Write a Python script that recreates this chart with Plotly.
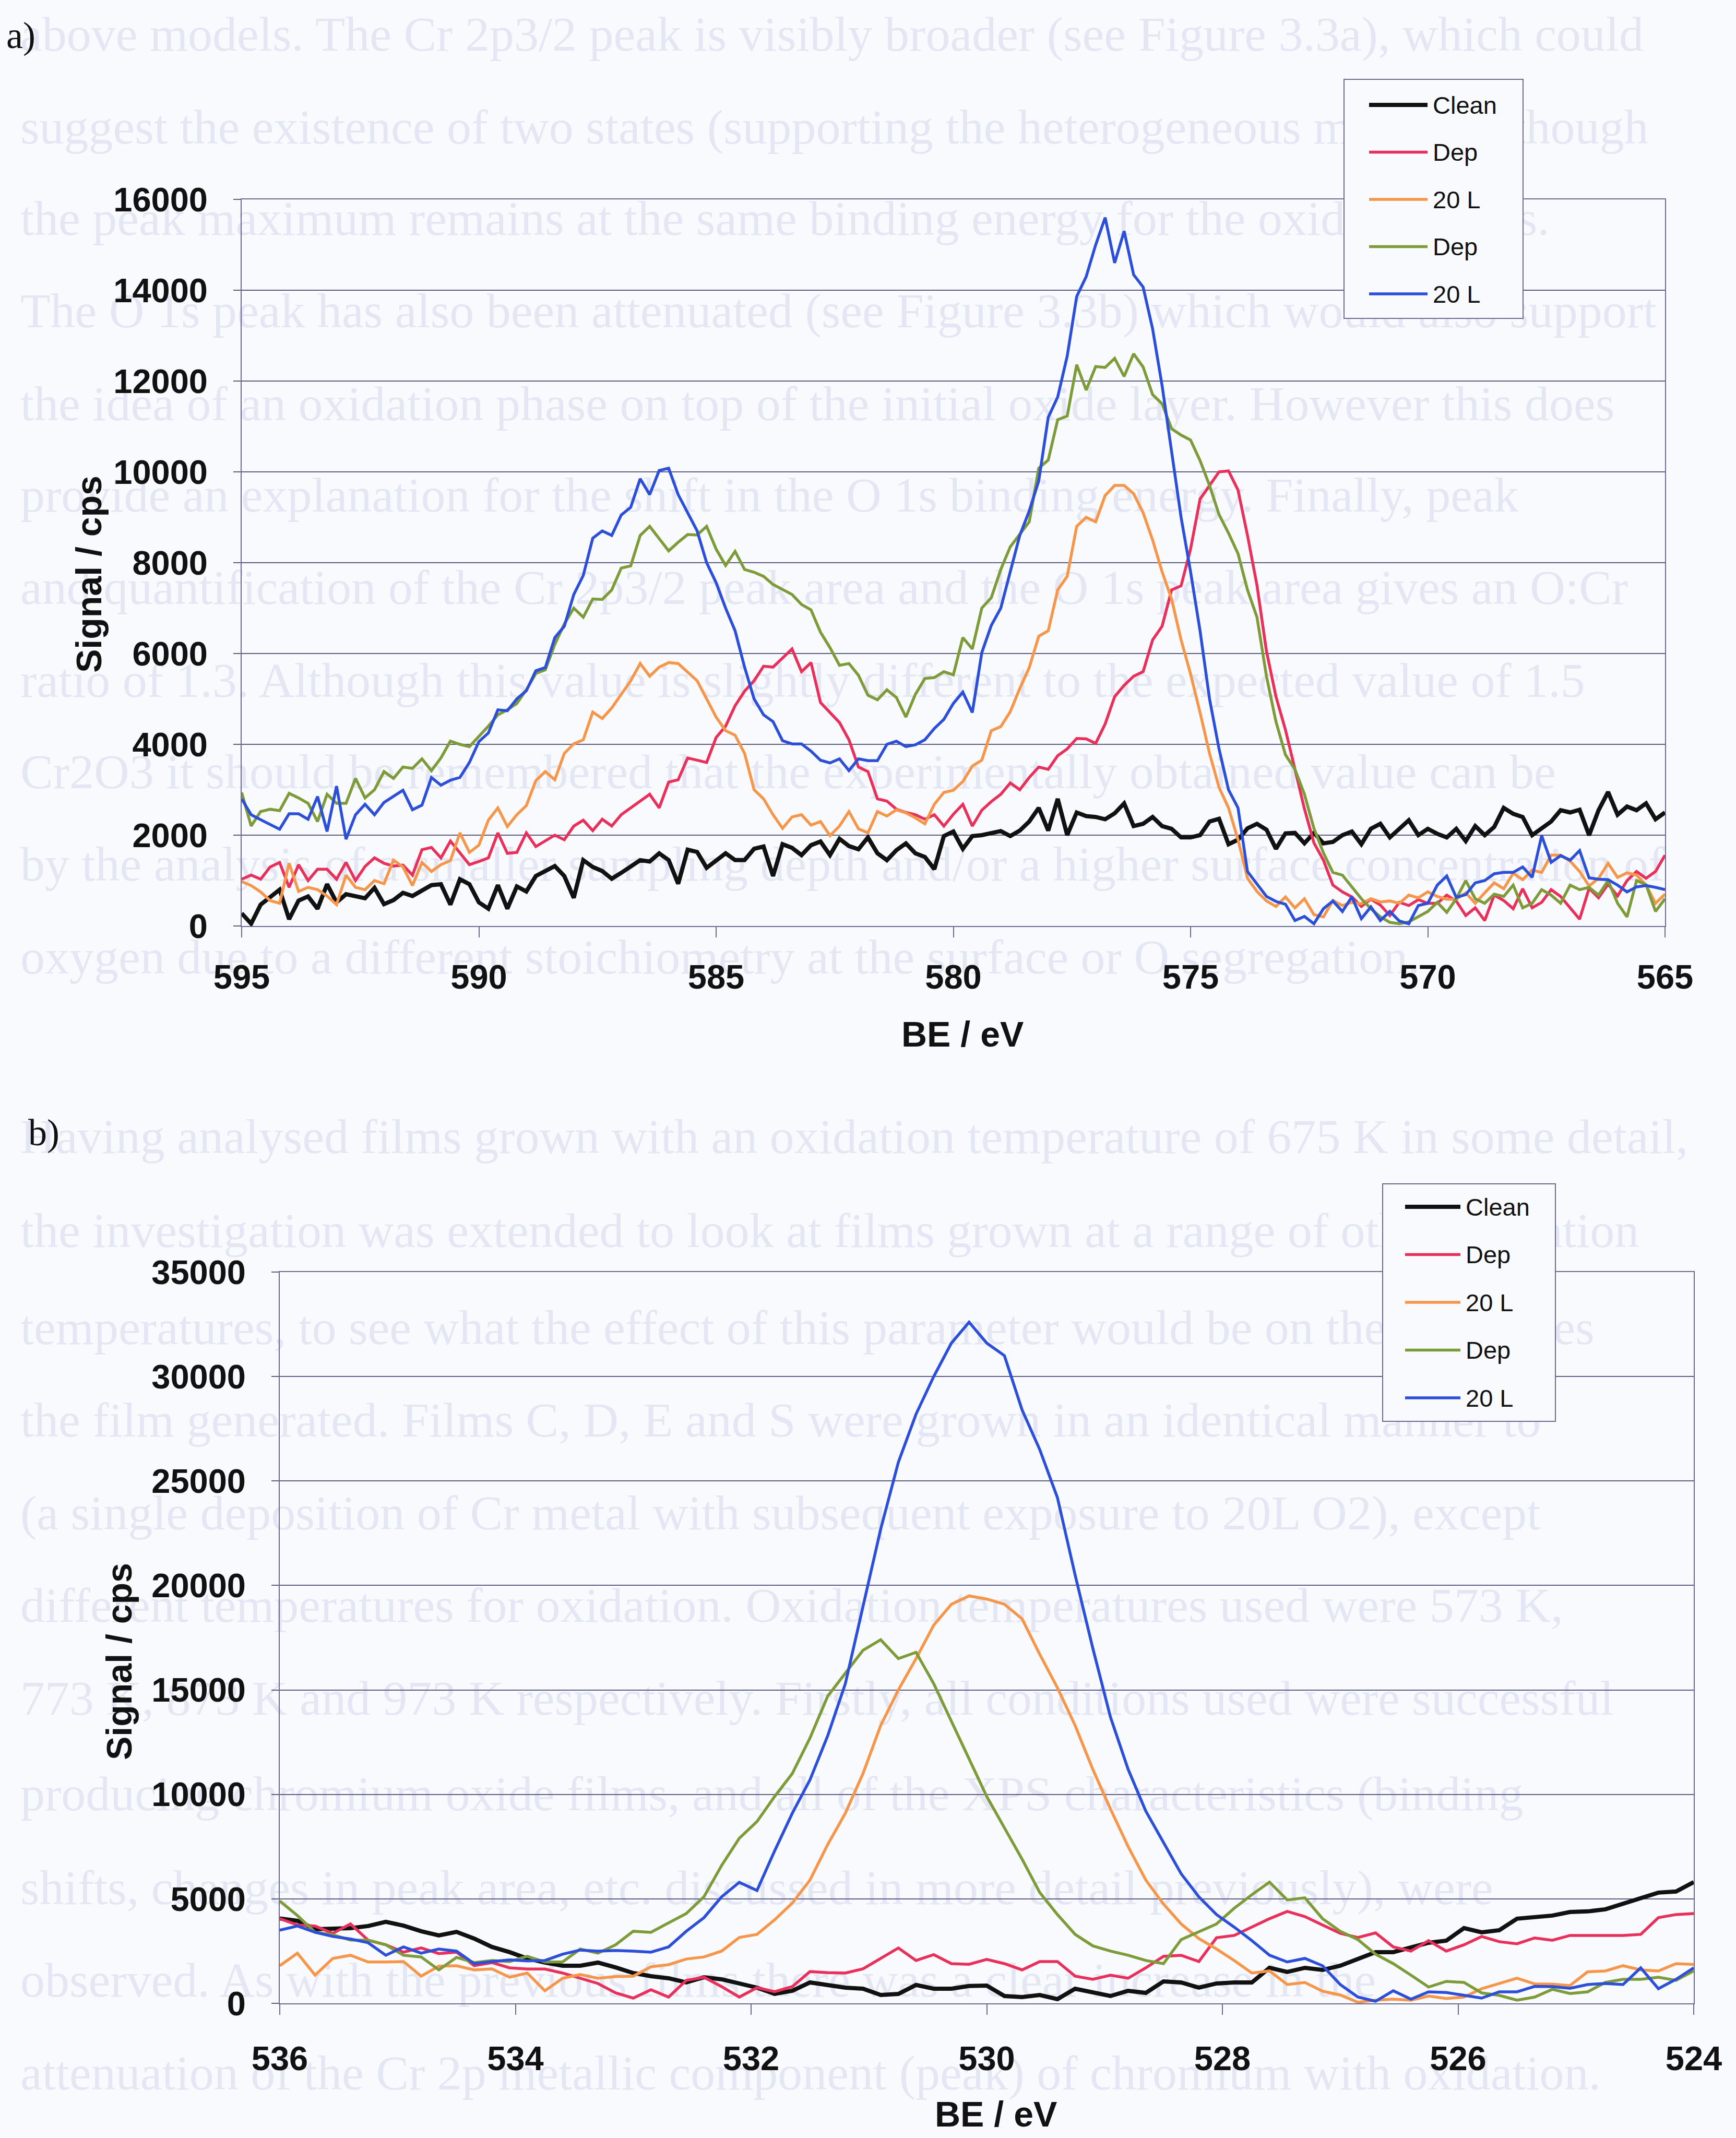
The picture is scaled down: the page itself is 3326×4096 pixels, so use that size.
import plotly.graph_objects as go

W, H = 3326, 4096

# ---------------------------------------------------------------- data
# Cr 2p region, binding energy grid 595 -> 565 eV in 0.2 eV steps
be_a = [round(595 - 0.2 * i, 1) for i in range(151)]

clean_a = [
    280, 50, 470, 650, 800, 150, 560, 650, 380, 920, 520, 700, 660, 610, 840, 480, 570, 730, 660, 790,
    900, 920, 470, 1030, 920, 520, 380, 900, 380, 870, 760, 1100, 1200, 1320, 1100, 620, 1450, 1300, 1210, 1040,
    1170, 1300, 1450, 1420, 1600, 1450, 930, 1680, 1630, 1280, 1450, 1600, 1450,
    1450, 1700, 1750, 1100, 1800, 1720, 1560, 1780, 1860, 1560, 1920, 1760, 1690, 1950, 1600, 1450, 1670, 1820,
    1600, 1520, 1250, 1980, 2080, 1700, 1980, 2000, 2050, 2090, 1980, 2100, 2300, 2600, 2100, 2800, 2000, 2500,
    2420, 2400, 2350, 2480, 2700, 2200, 2250, 2400, 2200, 2140, 1950, 1950, 2000,
    2300, 2360, 1800, 1900, 2150, 2250, 2120, 1700, 2040, 2050, 1820, 2050, 1820, 1850, 2000, 2080, 1800, 2140,
    2250, 1950, 2150, 2330, 2000, 2140, 2030, 1950, 2140, 1870, 2200, 2000, 2180, 2600, 2470, 2400, 2000, 2150,
    2300, 2550, 2500, 2560, 2000, 2550, 2950, 2450, 2630, 2550, 2700, 2350, 2500,
]
dep_a = [
    1030, 1120, 1030, 1300, 1400, 850, 1350, 1000, 1250, 1250, 1030, 1400, 1000, 1310, 1500, 1380, 1320, 1340,
    1120, 1680, 1730, 1500, 1870, 1600, 1350, 1420, 1500, 2050, 1600, 1620, 2050, 1750, 1870, 2000, 1900, 2200,
    2330, 2100, 2350, 2200, 2450, 2600, 2750, 2900, 2600, 3170, 3220, 3700, 3650, 3600, 4150, 4400, 4850,
    5170, 5400, 5720, 5700, 5900, 6100, 5600, 5800, 4920, 4700, 4480, 4100, 3500, 3400, 2800, 2750, 2570, 2500,
    2450, 2350, 2450, 2200, 2460, 2680, 2200, 2550, 2740, 2900, 3150, 3000, 3270, 3500, 3450, 3750, 3900, 4130,
    4120, 4020, 4450, 5050, 5300, 5500, 5600, 6300, 6600, 7400, 7490, 8300, 9400,
    9700, 10000, 10020, 9600, 8600, 7500, 6050, 5050, 4320, 3460, 2580, 1830, 1450, 900, 750, 640, 430, 590,
    460, 230, 520, 450, 580, 500, 500, 680, 550, 230, 400, 120, 680, 560, 380, 820, 400, 520, 800, 650, 400,
    150, 830, 620, 920, 660, 1000, 1200, 1050, 1200, 1560,
]
ox20_a = [
    980, 890, 750, 560, 500, 1380, 760, 850, 800, 660, 470, 1120, 850, 800, 1000, 930, 1450, 1300, 890, 1400,
    1200, 1350, 1440, 2050, 1620, 1780, 2330, 2600, 2190, 2450, 2650, 3200, 3400, 3220, 3800, 4010, 4100, 4710,
    4570, 4800, 5100, 5400, 5780, 5500, 5700, 5800, 5780, 5600, 5400, 5000, 4600, 4300, 4200,
    3800, 3000, 2800, 2450, 2150, 2400, 2450, 2220, 2300, 1990, 2200, 2520, 2140, 2050, 2520, 2420, 2560, 2490,
    2380, 2250, 2680, 2940, 2990, 3180, 3520, 3650, 4300, 4390, 4720, 5230, 5690, 6380, 6500, 7400, 7700, 8800,
    9000, 8900, 9480, 9700, 9700, 9520, 9100, 8500, 7800, 7200, 6300, 5550, 4700,
    3800, 3050, 2600, 1900, 1050, 760, 550, 430, 640, 400, 600, 250, 200, 560, 450, 520, 490, 600, 530, 550,
    500, 680, 620, 750, 650, 590, 590, 730, 500, 730, 950, 820, 1160, 1020, 1230, 1180, 1560, 1560, 1430, 1200,
    880, 1050, 1380, 1070, 1170, 1120, 900, 500, 700,
]
dep2_a = [
    2940, 2200, 2520, 2570, 2540, 2920, 2820, 2700, 2300, 2900, 2700, 2700, 3250, 2820, 3000, 3400, 3250, 3500,
    3470, 3680, 3420, 3700, 4070, 4000, 3950, 4170, 4400, 4650, 4760, 4900, 5200, 5560, 5640, 6200, 6650, 7000,
    6800, 7200, 7190, 7400, 7880, 7930, 8600, 8800, 8540, 8260, 8450, 8620, 8610, 8800, 8300, 7940, 8250,
    7850, 7790, 7700, 7520, 7410, 7300, 7080, 6960, 6470, 6130, 5740, 5780, 5520, 5080, 4980, 5200, 5030, 4600,
    5100, 5450, 5470, 5600, 5530, 6350, 6100, 7000, 7230, 7850, 8350, 8620, 8900, 10080, 10260, 11150, 11230,
    12360, 11800, 12320, 12300, 12500, 12100, 12600, 12310, 11700, 11500, 10950, 10810, 10700, 10250,
    9700, 9060, 8650, 8200, 7400, 6800, 5500, 4500, 3770, 3450, 2900, 2150, 1610, 1180, 1120, 860, 600, 380,
    200, 80, 50, 90, 200, 320, 520, 300, 600, 1000, 600, 500, 700, 650, 900, 400, 500, 800, 680, 500, 900, 800,
    850, 680, 1000, 500, 200, 1000, 910, 320, 600,
]
ox20b_a = [
    2800, 2450, 2340, 2240, 2130, 2470, 2470, 2350, 2850, 2080, 3080, 1910, 2450, 2680, 2450, 2720, 2850, 2990,
    2560, 2660, 3270, 3100, 3210, 3270, 3600, 4060, 4250, 4760, 4740, 5000, 5180, 5620, 5690, 6350, 6600, 7300,
    7720, 8540, 8700, 8600, 9050, 9220, 9850, 9500, 10030, 10080, 9500, 9100, 8700, 8000, 7560, 7000, 6500,
    5700, 5000, 4650, 4500, 4080, 4010, 4010, 3850, 3650, 3590, 3680, 3420, 3680, 3640, 3640, 4000, 4070, 3950,
    3990, 4100, 4350, 4550, 4900, 5150, 4700, 6020, 6620, 7000, 7800, 8600, 9140, 9800, 11200, 11650, 12550,
    13860, 14300, 15000, 15600, 14600, 15300, 14340, 14070, 13150, 11900, 10500, 9000, 7800, 6500,
    5000, 3900, 3000, 2600, 1200, 920, 650, 540, 480, 120, 210, 50, 380, 550, 320, 640, 160, 420, 120, 320, 110,
    50, 450, 500, 900, 1100, 630, 690, 950, 1000, 1150, 1180, 1180, 1300, 1070, 1990, 1400, 1550, 1450, 1660,
    1060, 1030, 1020, 900, 750, 860, 890, 850, 800,
]

# O 1s region, binding energy grid 536 -> 524 eV in 0.15 eV steps
be_b = [round(536 - 0.15 * k, 2) for k in range(81)]

clean_b = [
    4060, 3950, 3550, 3580, 3600, 3700, 3900, 3720, 3450, 3250, 3420, 3100, 2700, 2450, 2150, 1950, 1800, 1800,
    1950, 1720, 1450, 1300, 1200, 1000, 1250, 1150, 950, 750, 450, 600, 1000, 850, 750, 700, 400, 450, 880, 700,
    700, 830, 850,
    350, 300, 400, 200, 700, 550, 350, 600, 500, 1050, 1000, 750, 950, 1000, 1000, 1700, 1500, 1700, 1600, 1800,
    2150, 2450, 2450, 2700, 2900, 3000, 3600, 3400, 3500, 4050, 4150, 4200, 4370, 4400, 4500, 4750, 5000, 5300,
    5350, 5800,
]
dep_b = [
    4050, 3750, 3700, 3350, 3800, 3020, 2800, 2450, 2650, 2380, 2450, 1800, 1950, 1700, 1640, 1640, 1450, 1200,
    950, 500, 250, 650, 300, 1100, 1250, 800, 300, 750, 560, 800, 1520, 1470, 1450, 1650, 2150, 2650, 2050, 2330,
    1900, 1870, 2100,
    1900, 1600, 2000, 2000, 1300, 1150, 1350, 1200, 1700, 2250, 2300, 2000, 3140, 3250, 3650, 4050, 4400, 4150,
    3750, 3350, 3150, 3370, 2700, 2500, 3000, 2500, 2800, 3200, 2950, 2850, 3130, 3020, 3250, 3260, 3270, 3250,
    3300, 4100, 4250, 4300,
]
ox20_b = [
    1800, 2400, 1350, 2150, 2300, 1980, 1980, 2000, 1300, 1780, 1800, 1600, 1650, 1250, 1450, 600, 1200, 1380,
    1200, 1280, 1300, 1750, 1850, 2120, 2220, 2500, 3150, 3300, 4000, 4800, 5900, 7600, 9100, 11000, 13300,
    15000, 16500, 18100, 19100, 19500, 19350,
    19100, 18400, 16700, 15100, 13300, 11200, 9300, 7500, 5900, 4750, 3800, 3100, 2600, 2050, 1450, 1550, 900,
    1000, 580, 400, 50, 150, 200, 150, 350, 230, 300, 700, 950, 1200, 930, 920, 850, 1510, 1550, 1800, 1600,
    1550, 1900, 1860,
]
dep2_b = [
    4900, 4200, 3400, 3280, 3030, 3020, 2800, 2300, 2220, 1600, 2200, 1950, 2050, 2000, 2250, 1980, 1980, 2600,
    2400, 2800, 3450, 3400, 3850, 4300, 5100, 6600, 7900, 8700, 9900, 11000, 12700, 14700, 15800, 16900, 17400,
    16500, 16800, 15300, 13500, 11700, 9900,
    8400, 6900, 5300, 4250, 3300, 2750, 2500, 2300, 2050, 1900, 3050, 3420, 3800, 4550, 5200, 5800, 4950, 5050,
    4050, 3450, 3050, 2350, 1900, 1350, 780, 1050, 1000, 500, 380, 150, 300, 670, 470, 550, 1000, 1150, 1150,
    1250, 1100, 1550,
]
ox20b_b = [
    3500, 3700, 3400, 3200, 3080, 2900, 2300, 2700, 2400, 2600, 2500, 1900, 2000, 2080, 2030, 2050, 2350, 2550,
    2500, 2530, 2500, 2450, 2700, 3450, 4100, 5100, 5790, 5400, 7300, 9100, 10700, 12800, 15300, 19000, 22700,
    25900, 28200, 30000, 31600, 32600, 31600,
    31000, 28400, 26500, 24200, 20500, 17000, 13700, 11200, 9200, 7700, 6200, 5100, 4250, 3650, 3000, 2300,
    1980, 2150, 1800, 900, 300, 100, 600, 200, 550, 520, 400, 250, 550, 550, 810, 800, 720, 900, 950, 900, 1700,
    700, 1150, 1700,
]

series_names = ["Clean", "Dep", "20 L", "Dep", "20 L"]
series_colors = ["#111111", "#E8305A", "#F5964A", "#7D9B38", "#2B4FD8"]
series_widths = [8, 5.5, 5.5, 5.5, 5.5]
panel_a = [clean_a, dep_a, ox20_a, dep2_a, ox20b_a]
panel_b = [clean_b, dep_b, ox20_b, dep2_b, ox20b_b]

# faint text of the printed page behind the figures
page_lines_top = [
    "above models. The Cr 2p3/2 peak is visibly broader (see Figure 3.3a), which could",
    "suggest the existence of two states (supporting the heterogeneous model), although",
    "the peak maximum remains at the same binding energy for the oxidised films.",
    "The O 1s peak has also been attenuated (see Figure 3.3b) which would also support",
    "the idea of an oxidation phase on top of the initial oxide layer. However this does",
    "provide an explanation for the shift in the O 1s binding energy. Finally, peak",
    "and quantification of the Cr 2p3/2 peak area and the O 1s peak area gives an O:Cr",
    "ratio of 1.3. Although this value is slightly different to the expected value of 1.5",
    "Cr2O3 it should be remembered that the experimentally obtained value can be",
    "by the analysis of a smaller sampling depth and/or a higher surface concentration of",
    "oxygen due to a different stoichiometry at the surface or O segregation.",
]
page_lines_bottom = [
    "Having analysed films grown with an oxidation temperature of 675 K in some detail,",
    "the investigation was extended to look at films grown at a range of other oxidation",
    "temperatures, to see what the effect of this parameter would be on the properties",
    "the film generated. Films C, D, E and S were grown in an identical manner to",
    "(a single deposition of Cr metal with subsequent exposure to 20L O2), except",
    "different temperatures for oxidation. Oxidation temperatures used were 573 K,",
    "773 K, 873 K and 973 K respectively. Firstly, all conditions used were successful",
    "producing chromium oxide films, and all of the XPS characteristics (binding",
    "shifts, changes in peak area, etc. discussed in more detail previously), were",
    "observed. As with the previous films there was a clear increase in the",
    "attenuation of the Cr 2p metallic component (peak) of chromium with oxidation.",
]
page_y_top = [73, 251, 426, 603, 781, 956, 1133, 1311, 1486, 1663, 1841]
page_y_bottom = [2185, 2365, 2551, 2728, 2906, 3083, 3261, 3444, 3624, 3801, 3979]

# ---------------------------------------------------------------- styling
PAGE = "#F9FAFE"
GRID = "#5C5C84"
FRAME = "#6A6A92"
INK = "#111111"
SANS = "Liberation Sans"
SERIF = "Liberation Serif"


def px(v):
    return v / W


def py(v):
    return 1 - v / H


fig = go.Figure()

# page text layer (first subplot, so it sits beneath the charts)
fig.add_trace(go.Scatter(
    x=[39] * (len(page_lines_top) + len(page_lines_bottom)),
    y=page_y_top + page_y_bottom,
    text=page_lines_top + page_lines_bottom,
    mode="text", textposition="middle right",
    textfont=dict(family=SERIF, size=94, color="#E4E7F3"),
    hoverinfo="skip", showlegend=False, xaxis="x", yaxis="y",
))

for vals, name, col, wid in zip(panel_a, series_names, series_colors, series_widths):
    fig.add_trace(go.Scatter(x=be_a, y=vals, name=name, mode="lines",
                             line=dict(color=col, width=wid), showlegend=False,
                             xaxis="x2", yaxis="y2"))
for vals, name, col, wid in zip(panel_b, series_names, series_colors, series_widths):
    fig.add_trace(go.Scatter(x=be_b, y=vals, name=name, mode="lines",
                             line=dict(color=col, width=wid), showlegend=False,
                             xaxis="x3", yaxis="y3"))

tick_font = dict(family=SANS, size=65, color=INK, weight="bold")
title_font = dict(family=SANS, size=68, color=INK, weight="bold")

common_x = dict(showgrid=False, zeroline=False, showline=True, mirror=True, automargin=False,
                linecolor=FRAME, linewidth=2, ticks="outside", ticklen=20,
                tickwidth=2, tickcolor=FRAME, tickfont=tick_font)
common_y = dict(showgrid=True, gridcolor=GRID, gridwidth=2, zeroline=False, automargin=False,
                showline=True, mirror=True, linecolor=FRAME, linewidth=2,
                ticks="outside", ticklen=14, tickwidth=2, tickcolor=GRID,
                tickfont=tick_font, tickformat="d", ticklabelstandoff=36)

fig.update_layout(
    width=W, height=H, autosize=False,
    margin=dict(l=0, r=0, t=0, b=0, pad=0),
    paper_bgcolor=PAGE, plot_bgcolor="rgba(0,0,0,0)",
    showlegend=False,
    xaxis=dict(domain=[0, 1], range=[0, W], visible=False, fixedrange=True, automargin=False),
    yaxis=dict(domain=[0, 1], range=[H, 0], visible=False, fixedrange=True, automargin=False),
    xaxis2=dict(domain=[px(463), px(3190)], anchor="y2", range=[595, 565],
                tick0=565, dtick=5, ticklabelstandoff=20, **common_x),
    yaxis2=dict(domain=[py(1774), py(382)], anchor="x2", range=[0, 16000], dtick=2000, **common_y),
    xaxis3=dict(domain=[px(536), px(3245)], anchor="y3", range=[536, 524],
                tick0=524, dtick=2, ticklabelstandoff=28, **common_x),
    yaxis3=dict(domain=[py(3838), py(2437)], anchor="x3", range=[0, 35000], dtick=5000, **common_y),
)

# axis titles
for (cx, cy, txt, ang) in [(1844, 1981, "BE / eV", 0), (1908, 4050, "BE / eV", 0),
                           (170, 1100, "Signal / cps", -90), (228, 3183, "Signal / cps", -90)]:
    fig.add_annotation(x=px(cx), y=py(cy), xref="paper", yref="paper", text=txt,
                       textangle=ang, showarrow=False, xanchor="center", yanchor="middle",
                       font=title_font)

# panel labels
fig.add_annotation(x=px(10), y=py(68), xref="paper", yref="paper", text="a)",
                   showarrow=False, xanchor="left", yanchor="middle",
                   font=dict(family=SERIF, size=72, color=INK))
fig.add_annotation(x=px(52), y=py(2170), xref="paper", yref="paper", text="b)",
                   showarrow=False, xanchor="left", yanchor="middle",
                   font=dict(family=SERIF, size=72, color=INK))


# legend boxes with line samples
def draw_key(box, first_y, step, line_x0, line_x1, text_x):
    x0, x1, y0, y1 = box
    fig.add_shape(type="rect", xref="paper", yref="paper",
                  x0=px(x0), x1=px(x1), y0=py(y1), y1=py(y0),
                  fillcolor=PAGE, line=dict(color=FRAME, width=2), layer="above")
    for n, (name, col, wid) in enumerate(zip(series_names, series_colors, series_widths)):
        yy = first_y + step * n
        fig.add_shape(type="line", xref="paper", yref="paper",
                      x0=px(line_x0), x1=px(line_x1), y0=py(yy), y1=py(yy),
                      line=dict(color=col, width=wid), layer="above")
        fig.add_annotation(x=px(text_x), y=py(yy), xref="paper", yref="paper",
                           text=name, showarrow=False, xanchor="left", yanchor="middle",
                           font=dict(family=SANS, size=47, color=INK))


draw_key((2575, 2918, 152, 610), 201, 90.5, 2623, 2735, 2743)
draw_key((2649, 2980, 2268, 2723), 2312, 91.5, 2692, 2798, 2806)

fig.write_html("out.html")
